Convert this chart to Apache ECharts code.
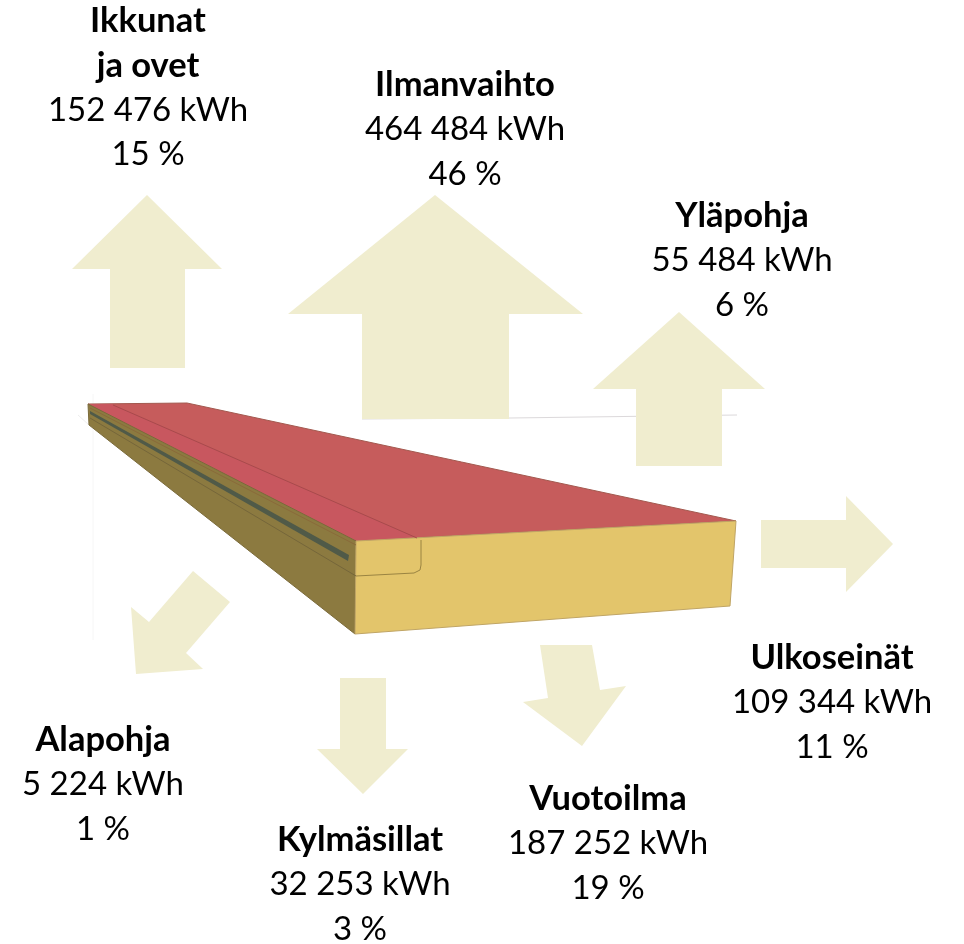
<!DOCTYPE html>
<html>
<head>
<meta charset="utf-8">
<style>html,body{margin:0;padding:0;background:#fff}#c{width:964px;height:944px}</style>
<script src="https://cdn.jsdelivr.net/npm/echarts@6/dist/echarts.min.js"></script>
</head>
<body>
<div id="c"></div>
<script>
// --- chart values ---
const categories = [['Ikkunat', 'ja ovet'], ['Ilmanvaihto'], ['Yläpohja'], ['Ulkoseinät'], ['Vuotoilma'], ['Kylmäsillat'], ['Alapohja']];
const energyKwh = ['152 476', '464 484', '55 484', '109 344', '187 252', '32 253', '5 224'];
const sharePct = [15, 46, 6, 11, 19, 3, 1];

// --- drawing geometry (picture space) ---
const arrowOutlines = [
  [[147,195],[222,269],[185,269],[185,368],[110,368],[110,269],[72,269]],
  [[435,195],[583,314],[509,314],[509,419],[362,419],[362,314],[288,314]],
  [[679,312],[765,389],[722,389],[722,466],[636,466],[636,389],[593,389]],
  [[761,520],[846,520],[846,496],[893,544],[846,592],[846,568],[761,568]],
  [[540,645],[592,645],[600,690],[626,686],[582,746],[523,702],[548,698]],
  [[340,678],[386,678],[386,749],[408,749],[363,794],[317,749],[340,749]],
  [[193,571],[230,602],[186,653],[203,669],[136,674],[131,607],[149,622]]
];
const labelAnchors = [[148,21],[465,85],[742,216],[832,658],[608,799],[360,840],[103,740]];
const labelLineGap = 44.5;

const backLines = [
  {pts:[[362,419],[510,418],[737,415]], c:'#dcd9db', w:1},
  {pts:[[93,394],[93,640]], c:'#f6f6f6', w:1},
  {pts:[[78,415],[89,425]], c:'#eeeeee', w:1}
];
const blockFaces = [
  {pts:[[88,404],[187,403],[736,521],[356,541]], fill:'#c65c5c', stroke:'#a3594f', w:1},
  {pts:[[88,404],[112,404],[417,538],[356,541]], fill:'#c8575f', stroke:null},
  {pts:[[88,404],[356,541],[355,634],[89,425]], fill:'#8c7a40', stroke:'#7a6a3a', w:1},
  {pts:[[356,541],[736,521],[730,606],[355,634]], fill:'#e3c56b', stroke:'#c0a565', w:1},
  {pts:[[90,411],[349,555],[348,561],[90,414]], fill:'#505a48', stroke:null}
];
const blockLines = [
  {pts:[[113,405],[417,538]], c:'#a84a4c', w:1},
  {pts:[[90,408],[356,545]], c:'#8a6a3a', w:1},
  {pts:[[90,418],[356,576]], c:'#75663a', w:1},
  {pts:[[356,576],[414,573],[420,570],[421,565],[421,540]], c:'#9a8442', w:1}
];

const arrowColor = '#f0edcf';
const textFont = 'Lato, "Open Sans", sans-serif';

function polyShape(api, pts) {
  return { points: pts.map(p => api.coord(p)) };
}

function renderArrow(params, api) {
  return { type:'polygon', shape: polyShape(api, arrowOutlines[params.dataIndex]), style:{fill:arrowColor} };
}
function renderFace(params, api) {
  const f = blockFaces[params.dataIndex];
  return { type:'polygon', shape: polyShape(api, f.pts),
    style:{fill:f.fill, stroke:f.stroke, lineWidth:f.w||0} };
}
const lineRenderer = list => (params, api) => {
  const l = list[params.dataIndex];
  return { type:'polyline', shape: polyShape(api, l.pts),
    style:{fill:null, stroke:l.c, lineWidth:l.w} };
};
function renderLabel(params, api) {
  const i = params.dataIndex;
  const a = api.coord(labelAnchors[i]);
  const lines = categories[i].map(t => ({t, bold:true}));
  lines.push({t: energyKwh[i] + ' kWh', bold:false});
  lines.push({t: sharePct[i] + ' %', bold:false});
  return { type:'group', children: lines.map((l, k) => ({
    type:'text',
    style:{ x:a[0], y:a[1] + k*labelLineGap, text:l.t, align:'center', verticalAlign:'middle',
      fontFamily:textFont, fontWeight:l.bold?'bold':'normal', fontSize:l.bold?34.5:33, fill:'#000' }
  })) };
}

const chart = echarts.init(document.getElementById('c'), null, {renderer:'canvas'});
const ax = (max, inverse) => ({ type:'value', min:0, max, inverse, show:false });
const idx = arr => arr.map((_, i) => i);
const layer = (name, renderItem, arr, z) => ({type:'custom', name, coordinateSystem:'cartesian2d',
  renderItem, data:idx(arr), silent:true, z, encode:{x:0,y:0}});
chart.setOption({
  animation:false,
  backgroundColor:'#ffffff',
  grid:{left:0, right:0, top:0, bottom:0},
  xAxis: ax(964,false),
  yAxis: ax(944,true),
  series:[
    layer('backLines', lineRenderer(backLines), backLines, 1),
    layer('faces', renderFace, blockFaces, 2),
    layer('lines', lineRenderer(blockLines), blockLines, 3),
    layer('arrows', renderArrow, arrowOutlines, 4),
    layer('labels', renderLabel, categories, 5)
  ]
});
</script>
</body>
</html>
